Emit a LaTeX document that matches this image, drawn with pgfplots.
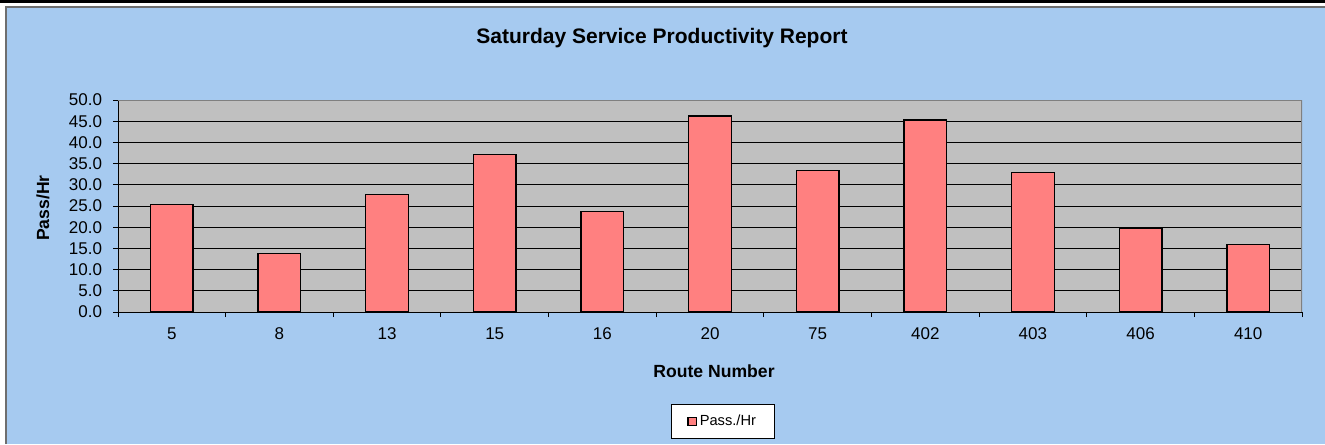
\documentclass[border=0pt]{standalone}
\usepackage{pgfplots}
\pgfplotsset{compat=1.18}
\usepackage{fontspec}
\setmainfont{Liberation Sans}
\definecolor{bgblue}{RGB}{166,202,240}
\definecolor{plotgray}{RGB}{192,192,192}
\definecolor{salmon}{RGB}{255,128,128}
\definecolor{framegray}{RGB}{110,110,110}
\begin{document}
\begin{tikzpicture}[x=0.75pt,y=0.75pt]
\useasboundingbox (0,0) rectangle (1325,444);
\fill[white] (0,0) rectangle (1325,444);
\fill[black] (0,441) rectangle (1325,444);
\fill[bgblue] (6,0) rectangle (1325,437);
\draw[framegray, line width=1.5pt] (6,0) -- (6,436.5) -- (1325,436.5);
\begin{axis}[
  at={(88.5pt,99pt)}, anchor=south west,
  scale only axis, width=888pt, height=159pt,
  ybar, bar width=32pt, bar shift=0pt,
  xmin=-0.5, xmax=10.5, ymin=0, ymax=50,
  axis x line*=bottom, axis y line*=left,
  axis line style={-, black, line width=0.75pt},
  axis background/.style={fill=plotgray},
  xtick={0,...,10},
  xticklabels={5,8,13,15,16,20,75,402,403,406,410},
  major x tick style={draw=none},
  minor xtick={-0.5,0.5,...,10.5},
  minor tick length=3.75pt,
  major tick length=3.75pt,
  tick align=outside,
  tick style={black, line width=0.75pt},
  ytick={0,5,...,50},
  ymajorgrids, grid style={black, line width=0.75pt},
  /pgf/number format/assume math mode=true,
  /pgf/number format/fixed,
  /pgf/number format/fixed zerofill,
  /pgf/number format/precision=1,
  tick label style={font=\fontsize{12.75}{14}\selectfont},
  xticklabel style={anchor=north, inner sep=0pt, yshift=-8pt},
  yticklabel style={anchor=east, inner sep=0pt, xshift=-8pt},
  legend style={at={(0.511,-0.517)}, anchor=center, draw=black, fill=white,
    line width=0.75pt, inner xsep=12pt, inner ysep=6pt,
    font=\fontsize{11}{13}\selectfont},
  legend image code/.code={\draw[fill=salmon, draw=black, line width=0.9pt] (0pt,-3.2pt) rectangle (6.4pt,3.2pt);},
]
\addplot[fill=salmon, draw=black, line width=1pt] coordinates {
(0,25.4) (1,13.8) (2,27.7) (3,37.1) (4,23.7) (5,46.2)
(6,33.3) (7,45.3) (8,32.9) (9,19.7) (10,15.9)};
\addlegendentry{Pass./Hr}
\draw[gray, line width=1.2pt] (rel axis cs:0,1) -- (rel axis cs:1,1) -- (rel axis cs:1,0);
\end{axis}
\node[font=\fontsize{15.75}{18}\selectfont\bfseries] at (662,406) {Saturday Service Productivity Report};
\node[font=\fontsize{13.2}{15}\selectfont\bfseries, rotate=90] at (43,236) {Pass/Hr};
\node[font=\fontsize{13.2}{15}\selectfont\bfseries] at (714,73) {Route Number};
\end{tikzpicture}
\end{document}
